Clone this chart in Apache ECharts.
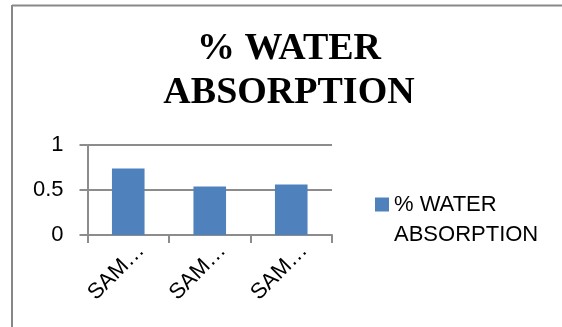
<!DOCTYPE html>
<html>
<head>
<meta charset="utf-8">
<script src="https://cdn.jsdelivr.net/npm/echarts@6/dist/echarts.min.js"></script>
<style>
  html, body { margin: 0; padding: 0; background: #fff; }
  #chart { width: 562px; height: 327px; }
</style>
</head>
<body>
<div id="chart"></div>
<script>
// Sample names and measured water absorption (%)
const categories = ['SAMPLE 1', 'SAMPLE 2', 'SAMPLE 3'];
const absorption = [0.74, 0.54, 0.56];
const seriesName = '% WATER ABSORPTION';
const yTicks = { min: 0, max: 1, interval: 0.5 };

const gray = '#8c8c8c';
const sans = '"Liberation Sans", Arial, sans-serif';

const chart = echarts.init(document.getElementById('chart'), null, { renderer: 'canvas' });

chart.setOption({
  backgroundColor: '#fff',
  animation: false,
  title: {
    text: '% WATER\nABSORPTION',
    left: 289,
    top: 27,
    textAlign: 'center',
    padding: 0,
    textStyle: {
      fontFamily: '"Liberation Serif", "Times New Roman", serif',
      fontWeight: 'bold',
      fontSize: 38,
      lineHeight: 44,
      color: '#000'
    }
  },
  legend: {
    orient: 'vertical',
    left: 375,
    top: 190,
    padding: 0,
    // square sits beside the first text line
    icon: 'path://M0,0H14V14H0Z M0,44.99H0.01V45H0Z',
    itemWidth: 14,
    itemHeight: 45,
    data: [seriesName],
    textStyle: {
      fontFamily: sans,
      fontSize: 22,
      lineHeight: 30,
      color: '#000',
      width: 150,
      overflow: 'break'
    }
  },
  grid: {
    left: 87.5,
    right: 230,
    top: 145,
    bottom: 92,
    containLabel: false
  },
  xAxis: {
    type: 'category',
    data: categories,
    boundaryGap: true,
    axisLine: { lineStyle: { color: gray, width: 2 } },
    axisTick: { show: true, length: 8, lineStyle: { color: gray, width: 2 } },
    axisLabel: {
      rotate: 45,
      margin: 25,
      padding: [0, -18, 0, 0],
      fontFamily: sans,
      fontSize: 22,
      color: '#000',
      interval: 0,
      formatter: v => v.slice(0, 3) + '…'
    }
  },
  yAxis: {
    type: 'value',
    min: yTicks.min,
    max: yTicks.max,
    interval: yTicks.interval,
    axisLine: { show: true, lineStyle: { color: gray, width: 2 } },
    axisTick: { show: true, length: 8, lineStyle: { color: gray, width: 2 } },
    splitLine: { show: true, lineStyle: { color: gray, width: 2 } },
    axisLabel: {
      margin: 24,
      fontFamily: sans,
      fontSize: 22,
      color: '#000'
    }
  },
  series: [{
    name: seriesName,
    type: 'bar',
    data: absorption,
    barWidth: '40%',
    itemStyle: { color: '#4f81bd' }
  }],
  graphic: [
    // frame edges along the left and top
    { type: 'line', shape: { x1: 12, y1: 5.5, x2: 562, y2: 5.5 }, style: { stroke: '#888', lineWidth: 2 } },
    { type: 'line', shape: { x1: 12, y1: 5, x2: 12, y2: 327 }, style: { stroke: '#888', lineWidth: 2 } }
  ]
});
</script>
</body>
</html>
